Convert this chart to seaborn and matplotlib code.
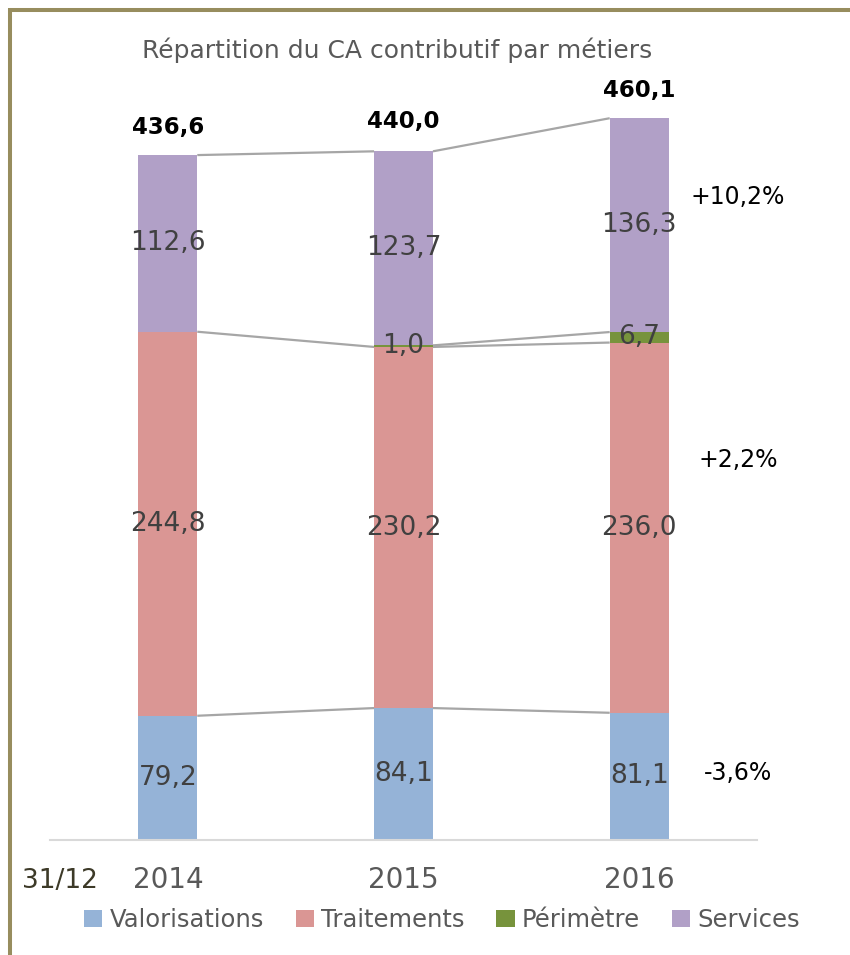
import numpy as np
import pandas as pd
import matplotlib
matplotlib.use("Agg")
import matplotlib.pyplot as plt
from matplotlib.lines import Line2D
from matplotlib.patches import Patch
import seaborn as sns

# ---- data ----
years = ["2014", "2015", "2016"]
valorisations = [79.2, 84.1, 81.1]
traitements = [244.8, 230.2, 236.0]
perimetre = [0.0, 1.0, 6.7]
services = [112.6, 123.7, 136.3]
totals = [436.6, 440.0, 460.1]
growth_labels = ["+10,2%", "+2,2%", "-3,6%"]
growth_y = [410, 242, 43]
series_names = ["Valorisations", "Traitements", "Périmètre", "Services"]
colors = ["#95B3D7", "#DA9694", "#77933C", "#B1A0C7"]

sns.set_theme(style="white")
plt.rcParams["font.family"] = ["DejaVu Sans"]

fig = plt.figure(figsize=(8.5, 9.55), dpi=100)
ax = fig.add_axes([50/850, (955-840)/955, 707/850, (840-87)/955])

layers = [valorisations, traitements, perimetre, services]
cum = np.cumsum(np.array(layers), axis=0)  # 4 x 3
bar_w = 0.25

# draw from top layer down so stacking appears correct
for li in range(3, -1, -1):
    df = pd.DataFrame({"year": years, "val": cum[li]})
    sns.barplot(data=df, x="year", y="val", color=colors[li], width=bar_w,
                saturation=1, ax=ax, linewidth=0, errorbar=None)

# connector lines between bars at each boundary
for li in range(4):
    for i in range(len(years) - 1):
        if li == 2 and perimetre[i] == 0:
            continue
        ax.plot([i + bar_w/2, i + 1 - bar_w/2], [cum[li][i], cum[li][i+1]],
                color="#A6A6A6", lw=1.6, zorder=1, solid_capstyle="butt")

# segment labels
for li in range(4):
    for i in range(len(years)):
        v = layers[li][i]
        if v == 0:
            continue
        bottom = cum[li][i] - v
        ax.text(i, bottom + v/2, f"{v:.1f}".replace(".", ","), ha="center",
                va="center", fontsize=19, color="#404040", zorder=5)

# total labels
for i, t in enumerate(totals):
    ax.annotate(f"{t:.1f}".replace(".", ","), (i, t), xytext=(0, 20),
                textcoords="offset points", ha="center", va="center",
                fontsize=16.5, fontweight="bold", color="black")

# growth labels
for lab, y in zip(growth_labels, growth_y):
    ax.text(2.42, y, lab, ha="center", va="center", fontsize=17, color="black")

ax.set_xlim(-0.5, 2.5)
ax.set_ylim(0, 480)
ax.set_xlabel("")
ax.set_ylabel("")
ax.set_yticks([])
for s in ["left", "right", "top"]:
    ax.spines[s].set_visible(False)
ax.spines["bottom"].set_color("#D9D9D9")
ax.spines["bottom"].set_linewidth(1.5)
ax.tick_params(axis="x", length=0, pad=19, labelsize=20, labelcolor="#595959")

fig.text(60/850, 1 - 881/955, "31/12", ha="center", va="center", fontsize=19,
         color="#3D3A28")

fig.text(397/850, 1 - 50/955, "Répartition du CA contributif par métiers",
         ha="center", va="center", fontsize=18, color="#595959")

handles = [Patch(facecolor=c, edgecolor="none") for c in colors]
fig.legend(handles, series_names, loc="center", bbox_to_anchor=(442/850, 1 - 920/955),
           ncol=4, frameon=False, fontsize=17.5, handlelength=0.75, handleheight=0.75,
           handletextpad=0.3, columnspacing=1.3, labelcolor="#595959")

# outer frame (top and left visible)
frame_c = "#978D5E"
fig.add_artist(Line2D([10/850, 1], [1 - 10/955, 1 - 10/955], transform=fig.transFigure,
                      color=frame_c, lw=2.9, solid_capstyle="butt"))
fig.add_artist(Line2D([10/850, 10/850], [0, 1 - 8/955], transform=fig.transFigure,
                      color=frame_c, lw=2.9, solid_capstyle="butt"))

fig.savefig("out.png", dpi=100)
